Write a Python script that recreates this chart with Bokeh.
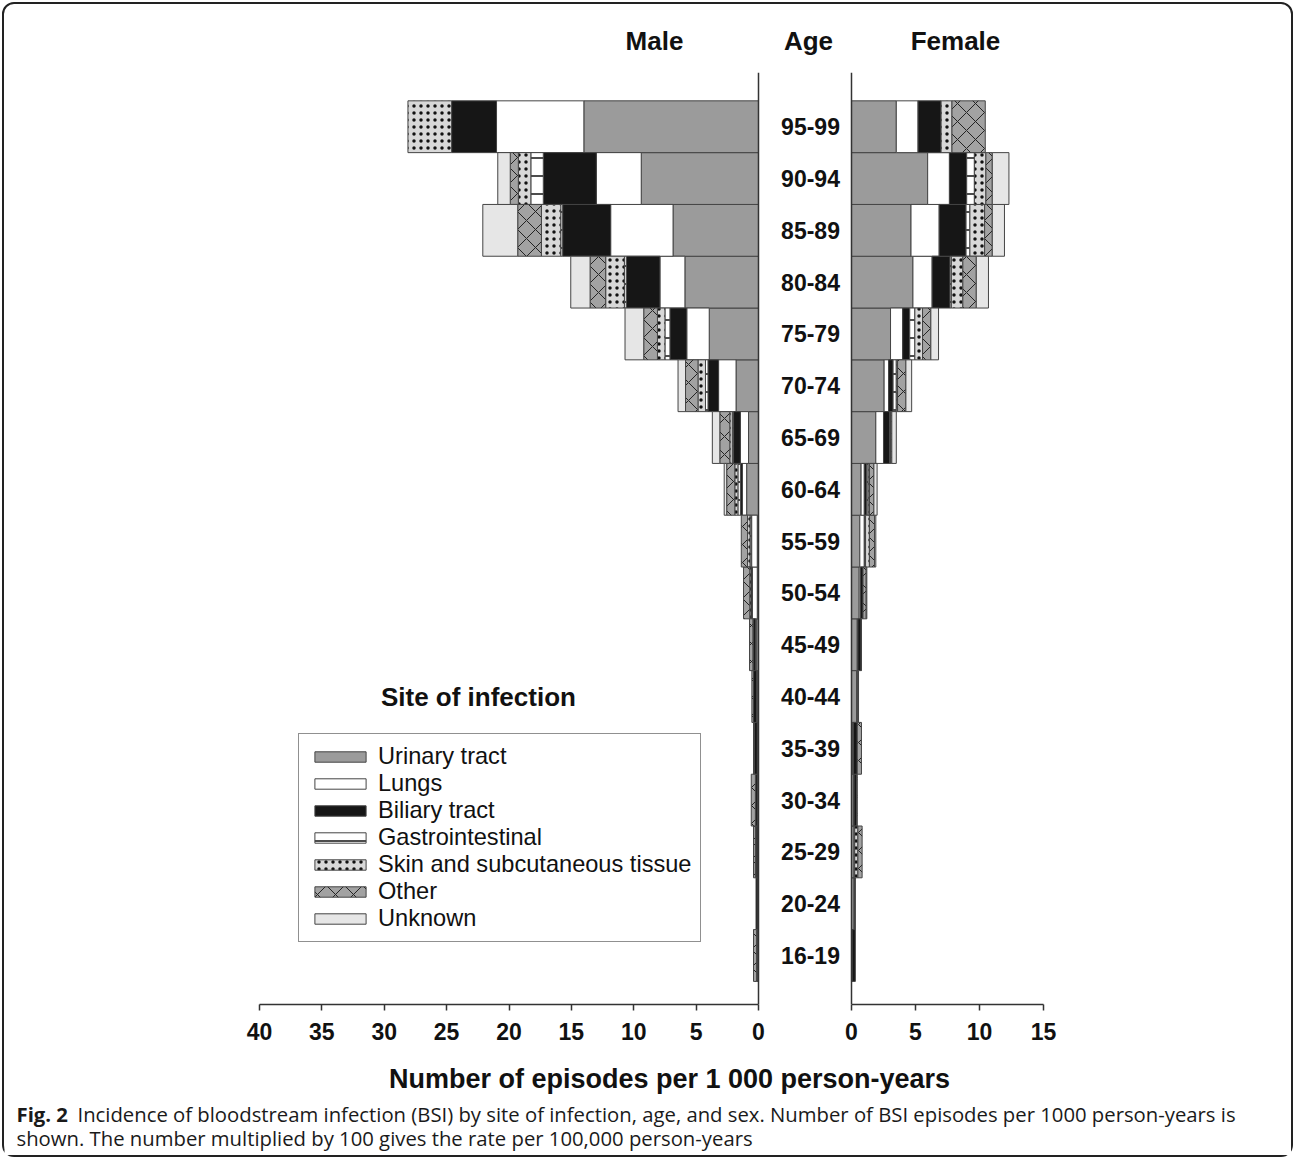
from bokeh.plotting import figure
from bokeh.models import Range1d, Label, Legend, LegendItem, FixedTicker
from bokeh.layouts import row, column
from bokeh.core.properties import value
from bokeh.embed import file_html
from bokeh.resources import INLINE

# ---------------- data (episodes per 1 000 person-years) ----------------
ages = ["16-19", "20-24", "25-29", "30-34", "35-39", "40-44", "45-49", "50-54",
        "55-59", "60-64", "65-69", "70-74", "75-79", "80-84", "85-89", "90-94", "95-99"]

sites = ["Urinary tract", "Lungs", "Biliary tract", "Gastrointestinal",
         "Skin and subcutaneous tissue", "Other", "Unknown"]

male_urinary = [0.05, 0.05, 0.05, 0.05, 0.05, 0.10, 0.15, 0.10, 0.10, 0.95, 0.80, 1.80, 3.95, 5.90, 6.85, 9.40, 14.0]
male_lungs = [0.00, 0.00, 0.00, 0.05, 0.05, 0.05, 0.10, 0.40, 0.45, 0.35, 0.65, 1.40, 1.80, 2.00, 5.00, 3.60, 7.00]
male_biliary = [0.05, 0.15, 0.15, 0.15, 0.25, 0.25, 0.15, 0.10, 0.03, 0.15, 0.55, 0.85, 1.35, 2.70, 3.85, 4.25, 3.60]
male_gi = [0.00, 0.00, 0.00, 0.00, 0.00, 0.00, 0.00, 0.00, 0.10, 0.20, 0.10, 0.20, 0.40, 0.15, 0.15, 1.00, 0.00]
male_skin = [0.05, 0.00, 0.05, 0.00, 0.00, 0.00, 0.05, 0.10, 0.20, 0.25, 0.20, 0.60, 0.60, 1.50, 1.55, 1.00, 3.50]
male_other = [0.25, 0.00, 0.15, 0.33, 0.05, 0.13, 0.27, 0.50, 0.50, 0.65, 0.80, 1.00, 1.10, 1.25, 1.90, 0.65, 0.00]
male_unknown = [0.00, 0.00, 0.00, 0.00, 0.00, 0.00, 0.00, 0.00, 0.00, 0.20, 0.60, 0.60, 1.50, 1.55, 2.80, 1.00, 0.00]

female_urinary = [0.05, 0.20, 0.20, 0.15, 0.10, 0.40, 0.45, 0.60, 0.65, 0.75, 1.90, 2.55, 3.05, 4.80, 4.65, 5.95, 3.50]
female_lungs = [0.00, 0.05, 0.05, 0.05, 0.05, 0.05, 0.05, 0.10, 0.35, 0.25, 0.60, 0.35, 0.95, 1.50, 2.20, 1.70, 1.70]
female_biliary = [0.25, 0.05, 0.00, 0.20, 0.30, 0.05, 0.25, 0.20, 0.05, 0.20, 0.50, 0.35, 0.55, 1.40, 2.10, 1.35, 1.80]
female_gi = [0.00, 0.00, 0.00, 0.00, 0.00, 0.00, 0.00, 0.00, 0.05, 0.10, 0.05, 0.25, 0.40, 0.10, 0.30, 0.60, 0.00]
female_skin = [0.00, 0.00, 0.25, 0.00, 0.00, 0.00, 0.00, 0.00, 0.30, 0.10, 0.00, 0.10, 0.60, 0.90, 1.15, 0.90, 0.85]
female_other = [0.00, 0.00, 0.33, 0.05, 0.33, 0.00, 0.00, 0.25, 0.40, 0.35, 0.10, 0.65, 0.65, 1.05, 0.60, 0.50, 2.60]
female_unknown = [0.00, 0.00, 0.00, 0.00, 0.00, 0.05, 0.03, 0.05, 0.10, 0.25, 0.35, 0.45, 0.60, 0.95, 0.95, 1.30, 0.00]

male_series = [male_urinary, male_lungs, male_biliary, male_gi, male_skin, male_other, male_unknown]
female_series = [female_urinary, female_lungs, female_biliary, female_gi, female_skin, female_other, female_unknown]

male_ticks = [0, 5, 10, 15, 20, 25, 30, 35, 40]
female_ticks = [0, 5, 10, 15]

# ---------------- styles ----------------
FONT = "Liberation Sans"
INK = "#111111"
site_styles = [
    dict(fill_color="#9b9b9b"),
    dict(fill_color="#ffffff"),
    dict(fill_color="#161616"),
    dict(fill_color="#ffffff", hatch_pattern="horizontal_line", hatch_scale=18,
         hatch_weight=1.5, hatch_color="#111111"),
    dict(fill_color="#d8d8d8", hatch_pattern="dot", hatch_scale=7,
         hatch_weight=1, hatch_color="#111111"),
    dict(fill_color="#a2a2a2", hatch_pattern="diagonal_cross", hatch_scale=18,
         hatch_weight=1, hatch_color="#222222"),
    dict(fill_color="#e6e6e6"),
]

# vertical layout (row index units)
Y0 = -0.946      # bottom of plot area (axis line)
YLINE = 17.04    # top of the vertical divider lines
YTOP = 18.36     # top of canvas
YHEAD = 17.66    # header text row


def draw_stack(p, series):
    base = [0.0] * len(ages)
    rends = []
    for vals, st in zip(series, site_styles):
        ys, ls, rs = [], [], []
        for i, v in enumerate(vals):
            if v > 0:
                ys.append(i)
                ls.append(base[i])
                rs.append(base[i] + v)
            base[i] += v
        r = p.hbar(y=ys, left=ls, right=rs, height=1.0,
                   line_color="#444444", line_width=1, **st)
        rends.append(r)
    return rends


def style_xaxis(ax, ticks, bounds):
    ax.ticker = FixedTicker(ticks=ticks)
    ax.bounds = bounds
    ax.axis_line_color = "#333333"
    ax.axis_line_width = 1.5
    ax.major_tick_line_color = "#333333"
    ax.major_tick_line_width = 1.5
    ax.major_tick_out = 6
    ax.major_tick_in = 0
    ax.minor_tick_line_color = None
    ax.major_label_text_font = FONT
    ax.major_label_text_font_style = "bold"
    ax.major_label_text_font_size = "23px"
    ax.major_label_text_color = INK
    ax.major_label_standoff = 12


def header(p, x, text):
    p.add_layout(Label(x=x, y=YHEAD, text=text, text_align="center",
                       text_baseline="middle", text_font=FONT, text_font_style="bold",
                       text_font_size="26px", text_color=INK))


def base_fig(width, x_range, min_left, min_right):
    p = figure(width=width, height=1056, x_range=x_range, y_range=Range1d(Y0, YTOP),
               output_backend="svg", toolbar_location=None, y_axis_location=None,
               min_border_left=min_left, min_border_right=min_right, min_border_top=0,
               min_border_bottom=56)
    p.grid.visible = False
    p.outline_line_color = None
    p.border_fill_color = None
    return p


# ---------------- male panel ----------------
male = base_fig(764, Range1d(40, -0.8016), 255, 0)
style_xaxis(male.xaxis[0], male_ticks, (0, 40))
male_rends = draw_stack(male, male_series)
male.segment(x0=[0], y0=[Y0], x1=[0], y1=[YLINE], line_color="#333333", line_width=1.5)

legend = Legend(items=[LegendItem(label=s, renderers=[r]) for s, r in zip(sites, male_rends)],
                location=(39, 62), glyph_width=64, glyph_height=13, label_height=10,
                spacing=0, padding=9, label_standoff=6,
                label_text_font=FONT, label_text_font_size="23.6px", label_text_color=INK,
                border_line_color="#222222", border_line_width=1,
                background_fill_color="white", background_fill_alpha=1.0)
male.add_layout(legend, "center")

male.add_layout(Label(x=22.45, y=4.996, text="Site of infection", text_align="center",
                      text_baseline="middle", text_font=FONT, text_font_style="bold",
                      text_font_size="26px", text_color=INK))
header(male, 8.34, "Male")

# ---------------- female panel (with the age column) ----------------
female = base_fig(523, Range1d(-6.484, 15), 0, 248)
style_xaxis(female.xaxis[0], female_ticks, (0, 15))
draw_stack(female, female_series)
female.segment(x0=[0], y0=[Y0], x1=[0], y1=[YLINE], line_color="#333333", line_width=1.5)
female.text(x=[-3.2] * len(ages), y=list(range(len(ages))), text=ages,
            text_align="center", text_baseline="middle", text_font=value(FONT),
            text_font_style="bold", text_font_size="23px", text_color=INK)

header(female, -3.36, "Age")
header(female, 8.125, "Female")

# ---------------- bottom: axis title + caption ----------------
bottom = figure(width=1287, height=95, x_range=Range1d(0, 1287), y_range=Range1d(95, 0),
                output_backend="svg", toolbar_location=None, x_axis_location=None,
                y_axis_location=None, min_border=0)
bottom.grid.visible = False
bottom.outline_line_color = None
bottom.border_fill_color = None

bottom.text(x=[665], y=[18], text=["Number of episodes per 1 000 person-years"],
            text_align="center", text_baseline="middle", text_font=value(FONT),
            text_font_style="bold", text_font_size="27px", text_color=INK)
bottom.text(x=[12], y=[53], text=["Fig. 2"], text_align="left", text_baseline="middle",
            text_font=value("Open Sans"), text_font_style="bold", text_font_size="20.3px",
            text_color="#1a1a1a")
bottom.text(x=[73], y=[53],
            text=["Incidence of bloodstream infection (BSI) by site of infection, age, and sex. "
                  "Number of BSI episodes per 1000 person-years is"],
            text_align="left", text_baseline="middle", text_font=value("Open Sans"),
            text_font_size="20.3px", text_color="#1a1a1a")
bottom.text(x=[12], y=[77],
            text=["shown. The number multiplied by 100 gives the rate per 100,000 person-years"],
            text_align="left", text_baseline="middle", text_font=value("Open Sans"),
            text_font_size="20.3px", text_color="#1a1a1a")

root = column(row(male, female), bottom,
              styles={"border": "2px solid #222222", "border-radius": "12px",
                      "margin-left": "2px", "margin-top": "2px",
                      "background-color": "white"})

open("out.html", "w").write(file_html(root, INLINE))
